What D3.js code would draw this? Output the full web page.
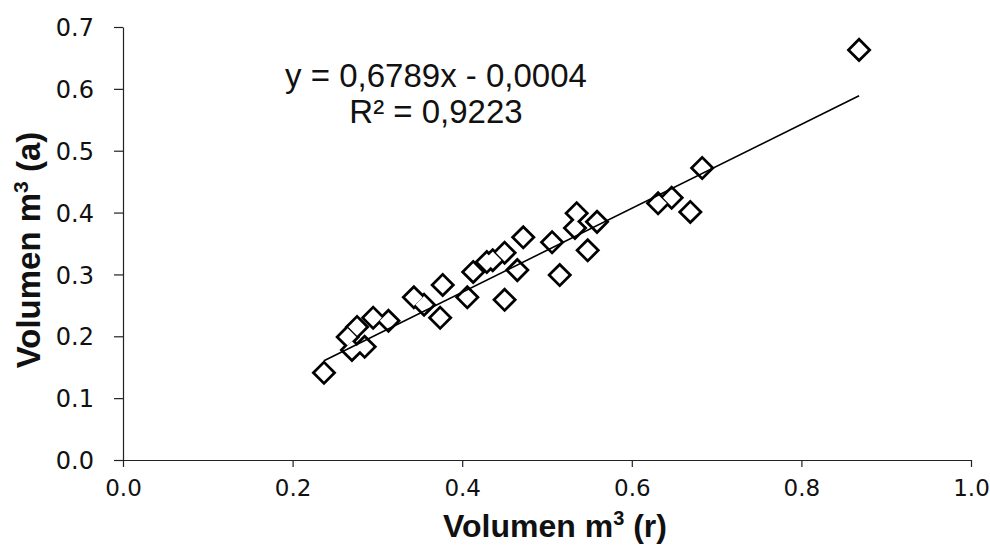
<!DOCTYPE html>
<html>
<head>
<meta charset="utf-8">
<script src="https://cdn.jsdelivr.net/npm/d3@7"></script>
<style>
  body { margin: 0; background: #fff; }
  svg { display: block; }
</style>
</head>
<body>
<div id="chart"></div>
<script>
const volR = [0.237, 0.270, 0.285, 0.265, 0.276, 0.295, 0.313, 0.343, 0.355, 0.374,
              0.377, 0.406, 0.413, 0.429, 0.436, 0.450, 0.472, 0.465, 0.450, 0.506,
              0.535, 0.533, 0.548, 0.515, 0.559, 0.631, 0.647, 0.669, 0.683, 0.868];
const volA = [0.141, 0.178, 0.183, 0.199, 0.215, 0.230, 0.225, 0.263, 0.251, 0.230,
              0.283, 0.263, 0.304, 0.320, 0.323, 0.335, 0.360, 0.307, 0.259, 0.352,
              0.399, 0.375, 0.339, 0.299, 0.385, 0.415, 0.424, 0.401, 0.472, 0.663];

const xTicks = [0, 0.2, 0.4, 0.6, 0.8, 1.0];
const yTicks = [0, 0.1, 0.2, 0.3, 0.4, 0.5, 0.6, 0.7];

// trend line as printed on the chart
const slope = 0.6789;
const intercept = -0.0004;
const eqLines = ["y = 0,6789x - 0,0004", "R\u00b2 = 0,9223"];

const width = 990, height = 545;
const margin = {top: 27, right: 19, bottom: 85, left: 123};

const svg = d3.select("#chart")
    .append("svg")
    .attr("width", width)
    .attr("height", height);

const x = d3.scaleLinear()
    .domain([0, 1])
    .range([margin.left, width - margin.right]);

const y = d3.scaleLinear()
    .domain([0, 0.7])
    .range([height - margin.bottom, margin.top]);

// axes
const xAxis = svg.append("g")
    .attr("transform", `translate(0,${height - margin.bottom})`)
    .call(d3.axisBottom(x).tickValues(xTicks).tickFormat(d3.format(".1f"))
        .tickSize(7).tickSizeOuter(0).tickPadding(13));

const yAxis = svg.append("g")
    .attr("transform", `translate(${margin.left},0)`)
    .call(d3.axisLeft(y).tickValues(yTicks).tickFormat(d3.format(".1f"))
        .tickSize(9).tickSizeOuter(0).tickPadding(20));

[xAxis, yAxis].forEach(a => {
    a.select(".domain").attr("stroke", "#222").attr("stroke-width", 1.2);
    a.selectAll(".tick line").attr("stroke", "#222").attr("stroke-width", 1.2);
    a.selectAll(".tick text")
        .attr("fill", "#111")
        .attr("font-family", "DejaVu Sans")
        .attr("font-size", "23px");
});
yAxis.selectAll(".tick text").attr("font-size", "24px").attr("dy", "0.36em");

// axis titles
const xTitle = svg.append("text")
    .attr("x", 555)
    .attr("y", 537)
    .attr("text-anchor", "middle")
    .attr("font-family", "Liberation Sans, Arial")
    .attr("font-weight", "bold")
    .attr("font-size", "32px")
    .attr("fill", "#111");
xTitle.append("tspan").text("Volumen m");
xTitle.append("tspan").attr("font-size", "20px").attr("dy", "-12").text("3");
xTitle.append("tspan").attr("dy", "12").text(" (r)");

const yTitle = svg.append("text")
    .attr("transform", `translate(40,250) rotate(-90)`)
    .attr("text-anchor", "middle")
    .attr("font-family", "Liberation Sans, Arial")
    .attr("font-weight", "bold")
    .attr("font-size", "33px")
    .attr("fill", "#111");
yTitle.append("tspan").text("Volumen m");
yTitle.append("tspan").attr("font-size", "21px").attr("dy", "-12").text("3");
yTitle.append("tspan").attr("dy", "12").text(" (a)");

// markers: outline layer first, then white fill on top so overlaps merge
const points = volR.map((v, i) => ({r: v, a: volA[i]}));
const diamond = d3.symbol(d3.symbolSquare, 150);

const marks = svg.append("g");
marks.selectAll("path.outline")
    .data(points)
    .enter()
    .append("path")
    .attr("class", "outline")
    .attr("d", diamond)
    .attr("transform", d => `translate(${x(d.r)},${y(d.a)}) rotate(45)`)
    .attr("fill", "#000")
    .attr("stroke", "#000")
    .attr("stroke-width", 5.5)
    .attr("stroke-linejoin", "miter");

marks.selectAll("path.inner")
    .data(points)
    .enter()
    .append("path")
    .attr("class", "inner")
    .attr("d", diamond)
    .attr("transform", d => `translate(${x(d.r)},${y(d.a)}) rotate(45)`)
    .attr("fill", "#fff");

// linear trend line over the data range
const xExt = d3.extent(volR);
svg.append("line")
    .attr("x1", x(xExt[0]))
    .attr("y1", y(slope * xExt[0] + intercept))
    .attr("x2", x(xExt[1]))
    .attr("y2", y(slope * xExt[1] + intercept))
    .attr("stroke", "#000")
    .attr("stroke-width", 1.6);

// equation label
svg.append("g")
    .selectAll("text")
    .data(eqLines)
    .enter()
    .append("text")
    .attr("x", 436)
    .attr("y", (d, i) => 87 + i * 36)
    .attr("text-anchor", "middle")
    .attr("font-family", "Liberation Sans, Arial")
    .attr("font-size", "33px")
    .attr("fill", "#111")
    .text(d => d);
</script>
</body>
</html>
